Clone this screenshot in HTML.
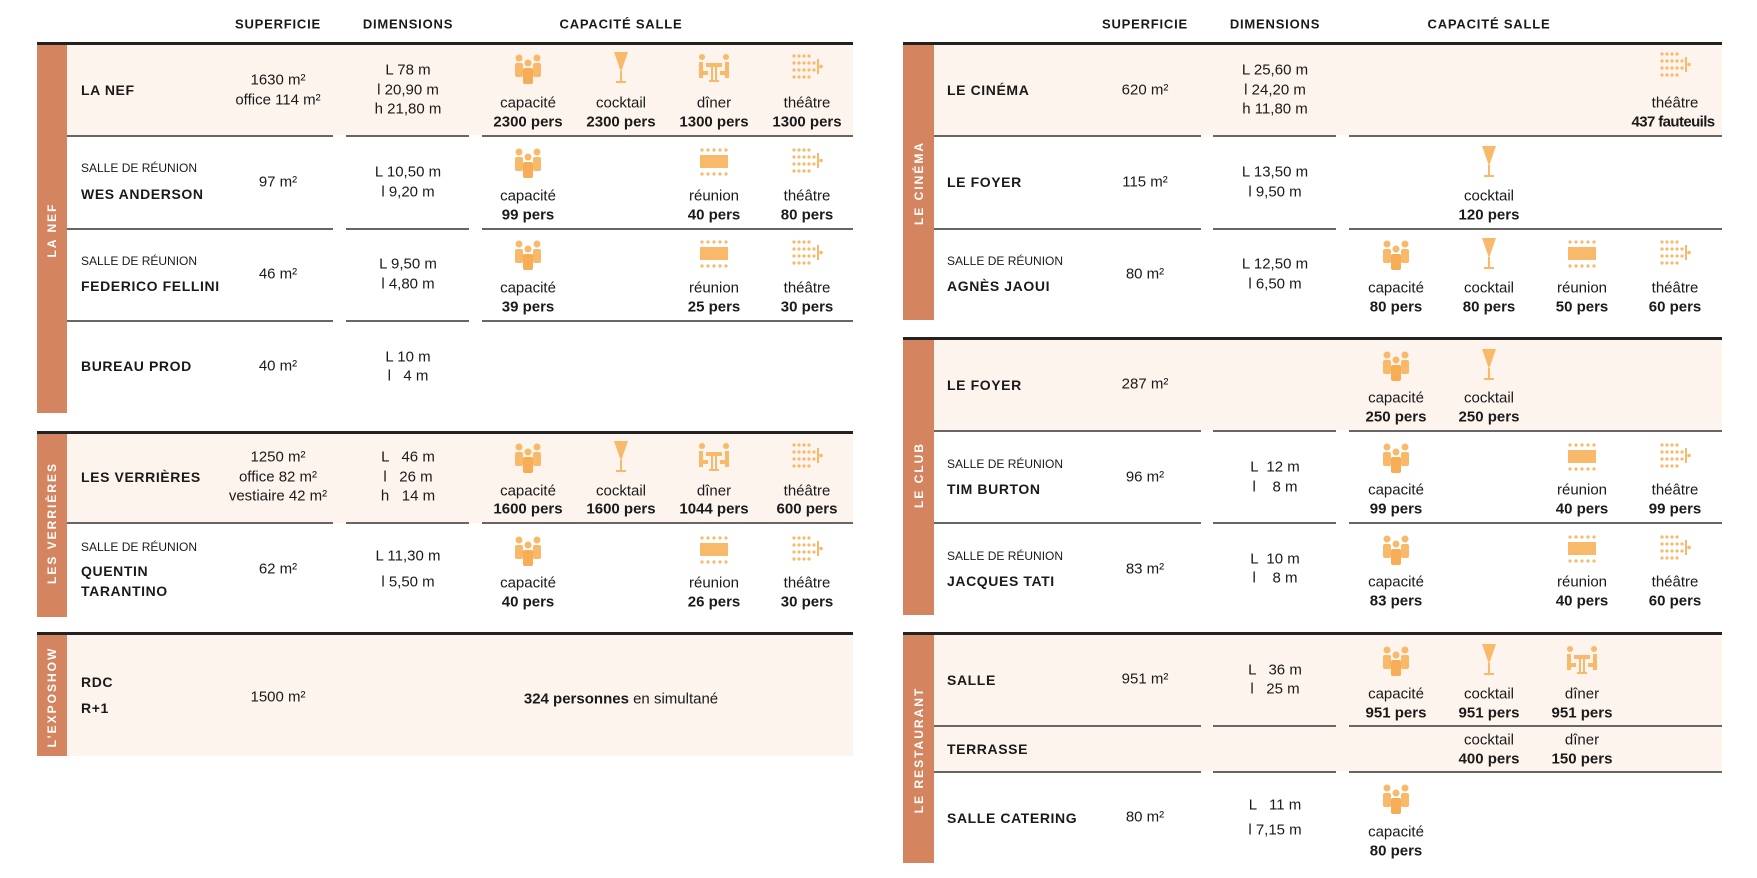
<!DOCTYPE html>
<html><head><meta charset="utf-8"><style>
body{margin:0;width:1757px;height:878px;background:#fff;position:relative;overflow:hidden;font-family:"Liberation Sans",sans-serif;color:#1a1a1a}
div{position:absolute}
.c{transform:translate(-50%,-50%);white-space:nowrap;font-size:15px;text-align:center}
.b{font-weight:bold}
.n{transform:translateY(-50%);white-space:nowrap;font-weight:bold;font-size:14px;letter-spacing:.6px}
.s{transform:translateY(-50%);white-space:nowrap;font-size:12px}
.h{transform:translate(-50%,-50%);font-weight:bold;font-size:13px;letter-spacing:.8px;white-space:nowrap}
.bar{background:#d4855f}
.pk{background:#fdf4ee}
.tl{height:3px;background:#222}
.rl{height:1.5px;background:#666}
.vl{color:#fff;font-weight:bold;font-size:12px;letter-spacing:2px;transform:translate(-50%,-50%) rotate(-90deg);white-space:nowrap}
svg.i{position:absolute;width:32px;height:32px;transform:translate(-50%,-50%)}
</style></head><body>
<svg width="0" height="0" style="position:absolute"><defs>
<symbol id="cap" viewBox="0 0 32 32"><g fill="#f9b96a"><circle cx="7" cy="6" r="3.5"/><circle cx="25" cy="6" r="3.5"/><circle cx="16" cy="11" r="3.5"/><rect x="3" y="11" width="8" height="14" rx="2"/><rect x="21" y="11" width="8" height="14" rx="2"/><rect x="11" y="16" width="10" height="16" rx="2" fill="#f7ad55"/></g></symbol>
<symbol id="ckt" viewBox="0 0 32 32"><g fill="#f9b96a"><polygon points="9,0 23,0 16,20"/><rect x="15" y="19" width="2" height="11"/><rect x="11" y="29" width="10" height="2"/></g></symbol>
<symbol id="din" viewBox="0 0 32 32"><g fill="#f9b96a"><circle cx="4" cy="5" r="3"/><circle cx="28" cy="5" r="3"/><rect x="1" y="10" width="4" height="16"/><rect x="1" y="19" width="9" height="4"/><rect x="27" y="10" width="4" height="16"/><rect x="22" y="19" width="9" height="4"/><rect x="8" y="11" width="16" height="4"/><rect x="13" y="15" width="2" height="14"/><rect x="17" y="15" width="2" height="14"/><rect x="11" y="28" width="10" height="2"/></g></symbol>
<symbol id="reu" viewBox="0 0 32 32"><g fill="#f9b96a"><circle cx="4" cy="4" r="1.6"/><circle cx="10" cy="4" r="1.6"/><circle cx="16" cy="4" r="1.6"/><circle cx="22" cy="4" r="1.6"/><circle cx="28" cy="4" r="1.6"/><rect x="2" y="9" width="28" height="13"/><circle cx="4" cy="28" r="1.6"/><circle cx="10" cy="28" r="1.6"/><circle cx="16" cy="28" r="1.6"/><circle cx="22" cy="28" r="1.6"/><circle cx="28" cy="28" r="1.6"/></g></symbol>
<symbol id="the" viewBox="0 0 32 32"><g fill="#f9b96a"><circle cx="3" cy="4" r="1.6"/><circle cx="8" cy="4" r="1.6"/><circle cx="13" cy="4" r="1.6"/><circle cx="18" cy="4" r="1.6"/><circle cx="3" cy="11" r="1.6"/><circle cx="8" cy="11" r="1.6"/><circle cx="13" cy="11" r="1.6"/><circle cx="18" cy="11" r="1.6"/><circle cx="23" cy="11" r="1.6"/><circle cx="3" cy="18" r="1.6"/><circle cx="8" cy="18" r="1.6"/><circle cx="13" cy="18" r="1.6"/><circle cx="18" cy="18" r="1.6"/><circle cx="23" cy="18" r="1.6"/><circle cx="3" cy="25" r="1.6"/><circle cx="8" cy="25" r="1.6"/><circle cx="13" cy="25" r="1.6"/><circle cx="18" cy="25" r="1.6"/><rect x="26" y="7" width="2" height="15"/><circle cx="30" cy="14.5" r="1.8"/></g></symbol>
</defs></svg>

<div class="h" style="left:278px;top:24px">SUPERFICIE</div>
<div class="h" style="left:408px;top:24px">DIMENSIONS</div>
<div class="h" style="left:621px;top:24px">CAPACITÉ SALLE</div>
<div class="h" style="left:1145px;top:24px">SUPERFICIE</div>
<div class="h" style="left:1275px;top:24px">DIMENSIONS</div>
<div class="h" style="left:1489px;top:24px">CAPACITÉ SALLE</div>

<div class="pk" style="left:67px;top:43px;width:786px;height:92px"></div>
<div class="pk" style="left:67px;top:432px;width:786px;height:91px"></div>
<div class="pk" style="left:67px;top:633px;width:786px;height:123px"></div>
<div class="pk" style="left:934px;top:43px;width:788px;height:92px"></div>
<div class="pk" style="left:934px;top:338px;width:788px;height:92px"></div>
<div class="pk" style="left:934px;top:633px;width:788px;height:138px"></div>

<div class="bar" style="left:37px;top:43px;width:30px;height:370px"></div>
<div class="bar" style="left:37px;top:432px;width:30px;height:185px"></div>
<div class="bar" style="left:37px;top:633px;width:30px;height:123px"></div>
<div class="bar" style="left:903px;top:43px;width:31px;height:277px"></div>
<div class="bar" style="left:903px;top:338px;width:31px;height:277px"></div>
<div class="bar" style="left:903px;top:633px;width:31px;height:230px"></div>
<div class="vl" style="left:52px;top:230px">LA NEF</div>
<div class="vl" style="left:52px;top:523px">LES VERRIÈRES</div>
<div class="vl" style="left:52px;top:697px">L’EXPOSHOW</div>
<div class="vl" style="left:919px;top:183px">LE CINÉMA</div>
<div class="vl" style="left:919px;top:475px">LE CLUB</div>
<div class="vl" style="left:919px;top:750px">LE RESTAURANT</div>

<div class="tl" style="left:37px;top:42px;width:816px"></div>
<div class="tl" style="left:37px;top:431px;width:816px"></div>
<div class="tl" style="left:37px;top:632px;width:816px"></div>
<div class="tl" style="left:903px;top:42px;width:819px"></div>
<div class="tl" style="left:903px;top:337px;width:819px"></div>
<div class="tl" style="left:903px;top:632px;width:819px"></div>

<div class="rl" style="left:67px;top:135px;width:266px"></div><div class="rl" style="left:346px;top:135px;width:123px"></div><div class="rl" style="left:482px;top:135px;width:371px"></div>
<div class="rl" style="left:67px;top:228px;width:266px"></div><div class="rl" style="left:346px;top:228px;width:123px"></div><div class="rl" style="left:482px;top:228px;width:371px"></div>
<div class="rl" style="left:67px;top:320px;width:266px"></div><div class="rl" style="left:346px;top:320px;width:123px"></div><div class="rl" style="left:482px;top:320px;width:371px"></div>
<div class="rl" style="left:67px;top:522px;width:266px"></div><div class="rl" style="left:346px;top:522px;width:123px"></div><div class="rl" style="left:482px;top:522px;width:371px"></div>
<div class="rl" style="left:934px;top:135px;width:267px"></div><div class="rl" style="left:1213px;top:135px;width:123px"></div><div class="rl" style="left:1349px;top:135px;width:373px"></div>
<div class="rl" style="left:934px;top:228px;width:267px"></div><div class="rl" style="left:1213px;top:228px;width:123px"></div><div class="rl" style="left:1349px;top:228px;width:373px"></div>
<div class="rl" style="left:934px;top:430px;width:267px"></div><div class="rl" style="left:1213px;top:430px;width:123px"></div><div class="rl" style="left:1349px;top:430px;width:373px"></div>
<div class="rl" style="left:934px;top:522px;width:267px"></div><div class="rl" style="left:1213px;top:522px;width:123px"></div><div class="rl" style="left:1349px;top:522px;width:373px"></div>
<div class="rl" style="left:934px;top:725px;width:267px"></div><div class="rl" style="left:1213px;top:725px;width:123px"></div><div class="rl" style="left:1349px;top:725px;width:373px"></div>
<div class="rl" style="left:934px;top:771px;width:267px"></div><div class="rl" style="left:1213px;top:771px;width:123px"></div><div class="rl" style="left:1349px;top:771px;width:373px"></div>

<div class="n" style="left:81px;top:90px">LA NEF</div>
<div class="c" style="left:278px;top:80px">1630 m²</div><div class="c" style="left:278px;top:100px">office 114 m²</div>
<div class="c" style="left:408px;top:70px">L 78 m</div><div class="c" style="left:408px;top:90px">l 20,90 m</div><div class="c" style="left:408px;top:109px">h 21,80 m</div>
<svg class="i" style="left:528px;top:68px"><use href="#cap"/></svg><svg class="i" style="left:621px;top:68px"><use href="#ckt"/></svg><svg class="i" style="left:714px;top:68px"><use href="#din"/></svg><svg class="i" style="left:807px;top:68px"><use href="#the"/></svg>
<div class="c" style="left:528px;top:103px">capacité</div><div class="c b" style="left:528px;top:122px">2300 pers</div>
<div class="c" style="left:621px;top:103px">cocktail</div><div class="c b" style="left:621px;top:122px">2300 pers</div>
<div class="c" style="left:714px;top:103px">dîner</div><div class="c b" style="left:714px;top:122px">1300 pers</div>
<div class="c" style="left:807px;top:103px">théâtre</div><div class="c b" style="left:807px;top:122px">1300 pers</div>

<div class="s" style="left:81px;top:168px">SALLE DE RÉUNION</div><div class="n" style="left:81px;top:194px">WES ANDERSON</div>
<div class="c" style="left:278px;top:182px">97 m²</div>
<div class="c" style="left:408px;top:172px">L 10,50 m</div><div class="c" style="left:408px;top:192px">l 9,20 m</div>
<svg class="i" style="left:528px;top:162px"><use href="#cap"/></svg><svg class="i" style="left:714px;top:162px"><use href="#reu"/></svg><svg class="i" style="left:807px;top:162px"><use href="#the"/></svg>
<div class="c" style="left:528px;top:196px">capacité</div><div class="c b" style="left:528px;top:215px">99 pers</div>
<div class="c" style="left:714px;top:196px">réunion</div><div class="c b" style="left:714px;top:215px">40 pers</div>
<div class="c" style="left:807px;top:196px">théâtre</div><div class="c b" style="left:807px;top:215px">80 pers</div>

<div class="s" style="left:81px;top:261px">SALLE DE RÉUNION</div><div class="n" style="left:81px;top:286px">FEDERICO FELLINI</div>
<div class="c" style="left:278px;top:274px">46 m²</div>
<div class="c" style="left:408px;top:264px">L 9,50 m</div><div class="c" style="left:408px;top:284px">l 4,80 m</div>
<svg class="i" style="left:528px;top:254px"><use href="#cap"/></svg><svg class="i" style="left:714px;top:254px"><use href="#reu"/></svg><svg class="i" style="left:807px;top:254px"><use href="#the"/></svg>
<div class="c" style="left:528px;top:288px">capacité</div><div class="c b" style="left:528px;top:307px">39 pers</div>
<div class="c" style="left:714px;top:288px">réunion</div><div class="c b" style="left:714px;top:307px">25 pers</div>
<div class="c" style="left:807px;top:288px">théâtre</div><div class="c b" style="left:807px;top:307px">30 pers</div>

<div class="n" style="left:81px;top:366px">BUREAU PROD</div>
<div class="c" style="left:278px;top:366px">40 m²</div>
<div class="c" style="left:408px;top:357px">L 10 m</div><div class="c" style="left:408px;top:376px">l &nbsp;&nbsp;4 m</div>

<div class="n" style="left:81px;top:477px">LES VERRIÈRES</div>
<div class="c" style="left:278px;top:457px">1250 m²</div><div class="c" style="left:278px;top:477px">office 82 m²</div><div class="c" style="left:278px;top:496px">vestiaire 42 m²</div>
<div class="c" style="left:408px;top:457px">L &nbsp;&nbsp;46 m</div><div class="c" style="left:408px;top:477px">l &nbsp;&nbsp;26 m</div><div class="c" style="left:408px;top:496px">h &nbsp;&nbsp;14 m</div>
<svg class="i" style="left:528px;top:457px"><use href="#cap"/></svg><svg class="i" style="left:621px;top:457px"><use href="#ckt"/></svg><svg class="i" style="left:714px;top:457px"><use href="#din"/></svg><svg class="i" style="left:807px;top:457px"><use href="#the"/></svg>
<div class="c" style="left:528px;top:491px">capacité</div><div class="c b" style="left:528px;top:509px">1600 pers</div>
<div class="c" style="left:621px;top:491px">cocktail</div><div class="c b" style="left:621px;top:509px">1600 pers</div>
<div class="c" style="left:714px;top:491px">dîner</div><div class="c b" style="left:714px;top:509px">1044 pers</div>
<div class="c" style="left:807px;top:491px">théâtre</div><div class="c b" style="left:807px;top:509px">600 pers</div>

<div class="s" style="left:81px;top:547px">SALLE DE RÉUNION</div><div class="n" style="left:81px;top:571px">QUENTIN</div><div class="n" style="left:81px;top:591px">TARANTINO</div>
<div class="c" style="left:278px;top:569px">62 m²</div>
<div class="c" style="left:408px;top:556px">L 11,30 m</div><div class="c" style="left:408px;top:582px">l 5,50 m</div>
<svg class="i" style="left:528px;top:550px"><use href="#cap"/></svg><svg class="i" style="left:714px;top:550px"><use href="#reu"/></svg><svg class="i" style="left:807px;top:550px"><use href="#the"/></svg>
<div class="c" style="left:528px;top:583px">capacité</div><div class="c b" style="left:528px;top:602px">40 pers</div>
<div class="c" style="left:714px;top:583px">réunion</div><div class="c b" style="left:714px;top:602px">26 pers</div>
<div class="c" style="left:807px;top:583px">théâtre</div><div class="c b" style="left:807px;top:602px">30 pers</div>

<div class="n" style="left:81px;top:682px">RDC</div><div class="n" style="left:81px;top:708px">R+1</div>
<div class="c" style="left:278px;top:697px">1500 m²</div>
<div class="c" style="left:621px;top:699px"><b>324 personnes</b> en simultané</div>

<div class="n" style="left:947px;top:90px">LE CINÉMA</div>
<div class="c" style="left:1145px;top:90px">620 m²</div>
<div class="c" style="left:1275px;top:70px">L 25,60 m</div><div class="c" style="left:1275px;top:90px">l 24,20 m</div><div class="c" style="left:1275px;top:109px">h 11,80 m</div>
<svg class="i" style="left:1675px;top:66px"><use href="#the"/></svg>
<div class="c" style="left:1675px;top:103px">théâtre</div><div class="c b" style="left:1673px;top:122px;letter-spacing:-0.6px">437 fauteuils</div>

<div class="n" style="left:947px;top:182px">LE FOYER</div>
<div class="c" style="left:1145px;top:182px">115 m²</div>
<div class="c" style="left:1275px;top:172px">L 13,50 m</div><div class="c" style="left:1275px;top:192px">l 9,50 m</div>
<svg class="i" style="left:1489px;top:162px"><use href="#ckt"/></svg>
<div class="c" style="left:1489px;top:196px">cocktail</div><div class="c b" style="left:1489px;top:215px">120 pers</div>

<div class="s" style="left:947px;top:261px">SALLE DE RÉUNION</div><div class="n" style="left:947px;top:286px">AGNÈS JAOUI</div>
<div class="c" style="left:1145px;top:274px">80 m²</div>
<div class="c" style="left:1275px;top:264px">L 12,50 m</div><div class="c" style="left:1275px;top:284px">l 6,50 m</div>
<svg class="i" style="left:1396px;top:254px"><use href="#cap"/></svg><svg class="i" style="left:1489px;top:254px"><use href="#ckt"/></svg><svg class="i" style="left:1582px;top:254px"><use href="#reu"/></svg><svg class="i" style="left:1675px;top:254px"><use href="#the"/></svg>
<div class="c" style="left:1396px;top:288px">capacité</div><div class="c b" style="left:1396px;top:307px">80 pers</div>
<div class="c" style="left:1489px;top:288px">cocktail</div><div class="c b" style="left:1489px;top:307px">80 pers</div>
<div class="c" style="left:1582px;top:288px">réunion</div><div class="c b" style="left:1582px;top:307px">50 pers</div>
<div class="c" style="left:1675px;top:288px">théâtre</div><div class="c b" style="left:1675px;top:307px">60 pers</div>

<div class="n" style="left:947px;top:385px">LE FOYER</div>
<div class="c" style="left:1145px;top:384px">287 m²</div>
<svg class="i" style="left:1396px;top:365px"><use href="#cap"/></svg><svg class="i" style="left:1489px;top:365px"><use href="#ckt"/></svg>
<div class="c" style="left:1396px;top:398px">capacité</div><div class="c b" style="left:1396px;top:417px">250 pers</div>
<div class="c" style="left:1489px;top:398px">cocktail</div><div class="c b" style="left:1489px;top:417px">250 pers</div>

<div class="s" style="left:947px;top:464px">SALLE DE RÉUNION</div><div class="n" style="left:947px;top:489px">TIM BURTON</div>
<div class="c" style="left:1145px;top:477px">96 m²</div>
<div class="c" style="left:1275px;top:467px">L &nbsp;12 m</div><div class="c" style="left:1275px;top:487px">l &nbsp;&nbsp;&nbsp;8 m</div>
<svg class="i" style="left:1396px;top:457px"><use href="#cap"/></svg><svg class="i" style="left:1582px;top:457px"><use href="#reu"/></svg><svg class="i" style="left:1675px;top:457px"><use href="#the"/></svg>
<div class="c" style="left:1396px;top:490px">capacité</div><div class="c b" style="left:1396px;top:509px">99 pers</div>
<div class="c" style="left:1582px;top:490px">réunion</div><div class="c b" style="left:1582px;top:509px">40 pers</div>
<div class="c" style="left:1675px;top:490px">théâtre</div><div class="c b" style="left:1675px;top:509px">99 pers</div>

<div class="s" style="left:947px;top:556px">SALLE DE RÉUNION</div><div class="n" style="left:947px;top:581px">JACQUES TATI</div>
<div class="c" style="left:1145px;top:569px">83 m²</div>
<div class="c" style="left:1275px;top:559px">L &nbsp;10 m</div><div class="c" style="left:1275px;top:578px">l &nbsp;&nbsp;&nbsp;8 m</div>
<svg class="i" style="left:1396px;top:549px"><use href="#cap"/></svg><svg class="i" style="left:1582px;top:549px"><use href="#reu"/></svg><svg class="i" style="left:1675px;top:549px"><use href="#the"/></svg>
<div class="c" style="left:1396px;top:582px">capacité</div><div class="c b" style="left:1396px;top:601px">83 pers</div>
<div class="c" style="left:1582px;top:582px">réunion</div><div class="c b" style="left:1582px;top:601px">40 pers</div>
<div class="c" style="left:1675px;top:582px">théâtre</div><div class="c b" style="left:1675px;top:601px">60 pers</div>

<div class="n" style="left:947px;top:680px">SALLE</div>
<div class="c" style="left:1145px;top:679px">951 m²</div>
<div class="c" style="left:1275px;top:670px">L &nbsp;&nbsp;36 m</div><div class="c" style="left:1275px;top:689px">l &nbsp;&nbsp;25 m</div>
<svg class="i" style="left:1396px;top:660px"><use href="#cap"/></svg><svg class="i" style="left:1489px;top:660px"><use href="#ckt"/></svg><svg class="i" style="left:1582px;top:660px"><use href="#din"/></svg>
<div class="c" style="left:1396px;top:694px">capacité</div><div class="c b" style="left:1396px;top:713px">951 pers</div>
<div class="c" style="left:1489px;top:694px">cocktail</div><div class="c b" style="left:1489px;top:713px">951 pers</div>
<div class="c" style="left:1582px;top:694px">dîner</div><div class="c b" style="left:1582px;top:713px">951 pers</div>

<div class="n" style="left:947px;top:749px">TERRASSE</div>
<div class="c" style="left:1489px;top:740px">cocktail</div><div class="c b" style="left:1489px;top:759px">400 pers</div>
<div class="c" style="left:1582px;top:740px">dîner</div><div class="c b" style="left:1582px;top:759px">150 pers</div>

<div class="n" style="left:947px;top:818px">SALLE CATERING</div>
<div class="c" style="left:1145px;top:817px">80 m²</div>
<div class="c" style="left:1275px;top:805px">L &nbsp;&nbsp;11 m</div><div class="c" style="left:1275px;top:830px">l 7,15 m</div>
<svg class="i" style="left:1396px;top:798px"><use href="#cap"/></svg>
<div class="c" style="left:1396px;top:832px">capacité</div><div class="c b" style="left:1396px;top:851px">80 pers</div>
</body></html>
